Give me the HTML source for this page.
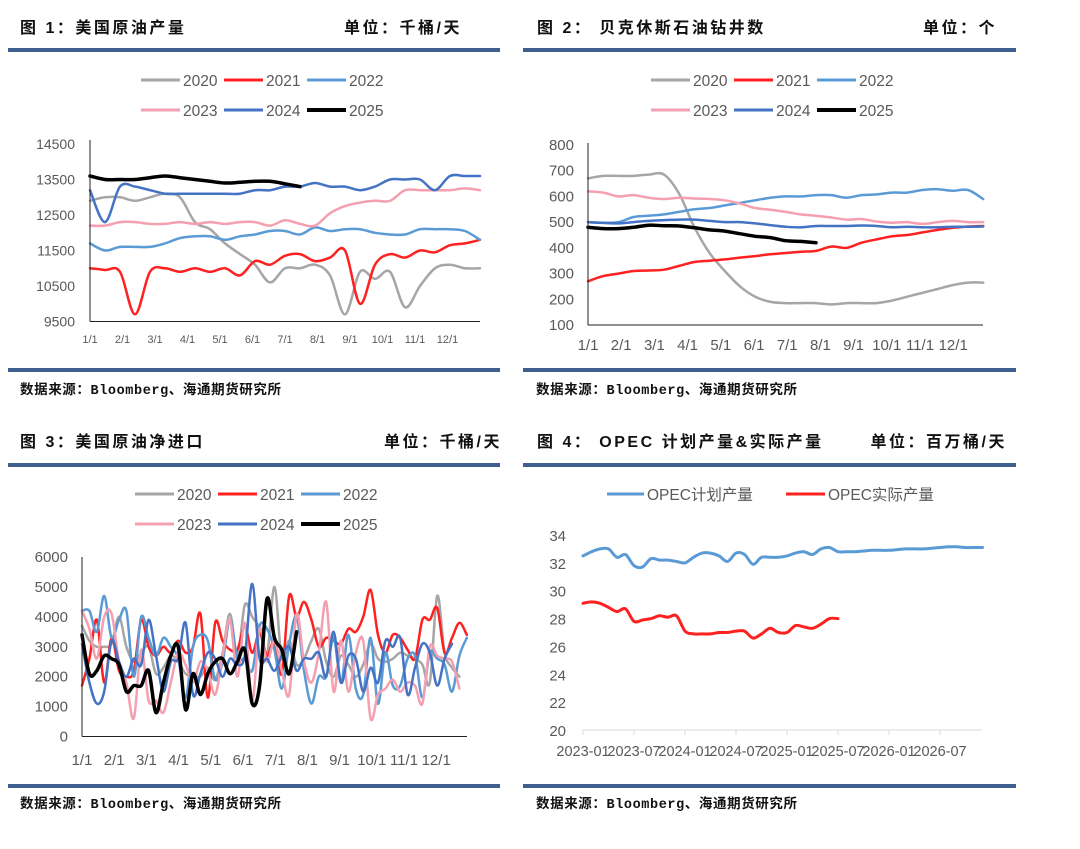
<!DOCTYPE html>
<html><head><meta charset="utf-8"><style>
html,body{margin:0;padding:0;background:#fff;}
svg{display:block;}
.ttl{font-family:"Liberation Sans","Noto Sans CJK SC",sans-serif;font-weight:bold;font-size:16px;fill:#111;letter-spacing:2.5px;}
.src{font-family:"Liberation Mono","Noto Sans CJK SC",monospace;font-weight:bold;font-size:13.5px;fill:#111;letter-spacing:0.6px;}
.ax{font-family:"Liberation Sans","Noto Sans CJK SC",sans-serif;font-size:14px;fill:#595959;}
.lg{font-family:"Liberation Sans","Noto Sans CJK SC",sans-serif;font-size:15.5px;fill:#595959;}
</style></head><body>
<svg id="root" width="1080" height="849" viewBox="0 0 1080 849" xmlns="http://www.w3.org/2000/svg">
<g>
<text class="ttl" x="20" y="33">图 1：美国原油产量</text>
<text class="ttl" x="462" y="33" text-anchor="end">单位：千桶/天</text>
<rect x="8" y="48" width="492" height="4" fill="#3f5f8f"/>
<rect x="8" y="368" width="492" height="4" fill="#3f5f8f"/>
<text class="src" x="20" y="394">数据来源：Bloomberg、海通期货研究所</text>

<text class="ttl" x="537" y="33">图 2：     贝克休斯石油钻井数</text>
<text class="ttl" x="997" y="33" text-anchor="end">单位：个</text>
<rect x="523" y="48" width="493" height="4" fill="#3f5f8f"/>
<rect x="523" y="368" width="493" height="4" fill="#3f5f8f"/>
<text class="src" x="536" y="394">数据来源：Bloomberg、海通期货研究所</text>

<text class="ttl" x="20" y="447">图 3：美国原油净进口</text>
<text class="ttl" x="502" y="447" text-anchor="end">单位：千桶/天</text>
<rect x="8" y="463" width="492" height="4" fill="#3f5f8f"/>
<rect x="8" y="784" width="492" height="4" fill="#3f5f8f"/>
<text class="src" x="20" y="808">数据来源：Bloomberg、海通期货研究所</text>

<text class="ttl" x="537" y="447">图 4：     OPEC 计划产量&amp;实际产量</text>
<text class="ttl" x="1007" y="447" text-anchor="end">单位：百万桶/天</text>
<rect x="523" y="463" width="493" height="4" fill="#3f5f8f"/>
<rect x="523" y="784" width="493" height="4" fill="#3f5f8f"/>
<text class="src" x="536" y="808">数据来源：Bloomberg、海通期货研究所</text>
</g>
<g id="charts"></g>
</svg>
<script>
// ---- Chart 1: US crude production (biweekly) ----
const c1Years = ["2020","2021","2022","2023","2024","2025"];
const c1Ticks = [9500,10500,11500,12500,13500,14500];
const c1Months = ["1/1","2/1","3/1","4/1","5/1","6/1","7/1","8/1","9/1","10/1","11/1","12/1"];
const c1_2020 = [12900,13000,13000,12900,13000,13100,13000,12300,12100,11700,11400,11100,10600,11000,11000,11100,10800,9700,10900,10700,10900,9900,10500,11000,11100,11000,11000];
const c1_2021 = [11000,10950,10900,9700,10900,11000,10900,11000,10900,11000,10800,11200,11100,11350,11400,11200,11300,11500,10000,11100,11400,11300,11500,11450,11650,11700,11800];
const c1_2022 = [11700,11500,11600,11600,11600,11700,11850,11900,11900,11800,11900,11950,12050,12050,11950,12150,12050,12100,12100,12000,11950,11950,12100,12100,12100,12050,11800];
const c1_2023 = [12200,12200,12300,12300,12250,12250,12300,12250,12300,12250,12300,12300,12200,12350,12250,12200,12550,12750,12850,12900,12900,13200,13200,13200,13200,13250,13200];
const c1_2024 = [13200,12300,13300,13300,13200,13100,13100,13100,13100,13100,13100,13200,13200,13300,13300,13400,13300,13300,13200,13300,13500,13500,13500,13200,13600,13600,13600];
const c1_2025 = [13600,13500,13500,13500,13550,13600,13550,13500,13450,13400,13420,13450,13450,13380,13300];

// ---- Chart 2: Baker Hughes oil rigs (biweekly) ----
const c2Ticks = [100,200,300,400,500,600,700,800];
const c2_2020 = [670,680,680,680,685,685,610,480,380,310,250,210,190,185,185,185,180,185,185,185,195,210,225,240,255,265,265];
const c2_2021 = [270,290,300,310,312,315,330,345,350,355,362,368,375,380,385,388,405,400,420,433,445,450,460,470,478,483,485];
const c2_2022 = [500,498,500,520,525,530,540,550,555,565,575,585,595,600,600,605,605,595,605,608,615,615,625,628,622,625,590];
const c2_2023 = [620,615,600,605,595,590,595,592,590,585,572,555,548,540,530,525,518,510,512,502,498,500,493,500,505,500,500];
const c2_2024 = [500,497,495,500,505,508,510,510,505,500,500,495,488,482,480,485,485,485,487,485,480,482,480,480,482,482,483];
const c2_2025 = [480,475,475,480,488,486,485,478,470,465,455,445,440,428,425,420];

// ---- Chart 3: US crude net imports (weekly) ----
const c3Ticks = [0,1000,2000,3000,4000,5000,6000];
const c3_2020 = [3700,3200,3000,3000,3100,4000,3000,2500,2800,3000,2100,2300,2700,2500,2100,2000,2000,2300,1900,2800,4100,2700,4400,4000,3600,2700,5000,2600,3200,2400,2600,3200,3600,2500,2000,2700,2400,2000,2400,3100,2600,2500,2600,2800,2700,2600,2400,1800,4700,2800,2300,2000];
const c3_2021 = [1700,2600,3900,1800,3300,2200,2000,2200,3900,3000,2700,3000,2800,3200,2800,3000,4100,1300,3800,3200,2900,2900,3700,2800,3500,2700,3200,2100,4700,4000,4500,3900,3000,3300,3200,3100,3600,3500,4000,4900,3400,2800,3400,3300,2900,2600,3900,3900,4300,2800,3300,3800,3400];
const c3_2022 = [4200,4200,3500,4700,3300,3900,4200,2000,4000,3300,2700,3300,3000,2600,1300,3000,3400,3200,1900,2500,3900,2600,2600,2200,3700,3600,2900,1600,3100,4000,2200,1100,2000,2000,3300,1800,3400,1600,1400,3300,1100,2800,1700,1700,2600,2700,1300,2800,2600,2400,1500,2700,3300];
const c3_2023 = [4200,3600,2600,4000,4100,2500,1800,600,2900,1200,1200,800,1800,2800,2400,1800,2500,2200,1400,2700,3900,2000,3800,1200,3600,2500,3200,2200,1400,4100,2500,1800,2800,4500,1500,3200,1500,2800,3200,600,1400,1600,1900,1500,1800,1700,1100,3000,2700,2600,2500,1600];
const c3_2024 = [3100,1800,1100,1500,3200,2500,2000,2600,2400,3900,2700,1500,2500,2600,3800,1400,2100,2800,2600,2000,2600,2400,2700,5100,2600,2600,2200,2700,3000,2200,2600,2600,2800,2000,3500,1800,2700,2600,1500,2300,1800,3200,3000,3300,1400,2300,3100,2800,1700,2600,3100];
const c3_2025 = [3400,2100,2200,2700,2600,2400,1500,1700,1700,2200,800,1800,2700,3000,900,2100,1400,2100,2500,2600,2100,2500,2900,1100,1700,4600,3300,2900,2100,3500];

// ---- Chart 4: OPEC planned vs actual (monthly) ----
const c4Ticks = [20,22,24,26,28,30,32,34];
const c4Labels = ["2023-01","2023-07","2024-01","2024-07","2025-01","2025-07","2026-01","2026-07"];
const c4Plan = [32.5,32.8,33.0,33.0,32.4,32.6,31.8,31.7,32.3,32.2,32.2,32.1,32.0,32.4,32.7,32.7,32.5,32.1,32.7,32.6,31.9,32.4,32.4,32.4,32.5,32.7,32.8,32.6,33.0,33.1,32.8,32.8,32.8,32.85,32.9,32.9,32.9,32.95,33.0,33.0,33.0,33.05,33.1,33.15,33.15,33.1,33.1,33.1];
const c4Actual = [29.1,29.2,29.1,28.8,28.5,28.7,27.8,27.9,28.0,28.2,28.1,28.2,27.1,26.9,26.9,26.9,27.0,27.0,27.1,27.1,26.6,26.9,27.3,27.0,27.0,27.5,27.4,27.3,27.6,28.0,28.0];

const NS="http://www.w3.org/2000/svg";
const root=document.getElementById('charts');
const COL={"2020":"#a6a6a6","2021":"#ff2020","2022":"#5b9bd5","2023":"#f4a0b0","2024":"#4472c4","2025":"#000000"};
function mk(tag,attrs,parent){const e=document.createElementNS(NS,tag);for(const k in attrs)e.setAttribute(k,attrs[k]);(parent||root).appendChild(e);return e;}
function txt(s,x,y,cls,anchor,parent){const t=mk('text',{x:x,y:y,class:cls,'text-anchor':anchor||'start'},parent);t.textContent=s;return t;}
function smooth(pts){let d='M'+pts[0][0].toFixed(1)+','+pts[0][1].toFixed(1);for(let i=1;i<pts.length;i++){const p0=pts[i-2]||pts[i-1],p1=pts[i-1],p2=pts[i],p3=pts[i+1]||p2;const c1x=p1[0]+(p2[0]-p0[0])/6,c1y=p1[1]+(p2[1]-p0[1])/6,c2x=p2[0]-(p3[0]-p1[0])/6,c2y=p2[1]-(p3[1]-p1[1])/6;d+='C'+c1x.toFixed(1)+','+c1y.toFixed(1)+' '+c2x.toFixed(1)+','+c2y.toFixed(1)+' '+p2[0].toFixed(1)+','+p2[1].toFixed(1);}return d;}
function series(vals,xf,yf,color,w,g,name){const pts=vals.map((v,i)=>[xf(i),yf(v)]);const p=mk('path',{d:smooth(pts),fill:'none',stroke:color,'stroke-width':w,'stroke-linejoin':'round','stroke-linecap':'round'},g);


return p;}
function legend(g,x0,y0,prefix){const rows=[["2020","2021","2022"],["2023","2024","2025"]];rows.forEach((r,ri)=>r.forEach((yr,ci)=>{const x=x0+ci*83,y=y0+ri*30;const item=mk('g',{},g);


mk('line',{x1:x,y1:y,x2:x+39,y2:y,stroke:COL[yr],'stroke-width':yr==="2025"?4:3},item);txt(yr,x+42,y+6,'lg','start',item);}));}

// Chart 1
(function(){const g=mk('g',{});


const X0=90,X1=480,Y0=321.5,Y1=144;const yf=v=>Y0-(v-9500)/5000*(Y0-Y1);const xf=i=>X0+i*15;
legend(g,141,80,'chart1');
c1Ticks.forEach(t=>{const e=txt(String(t),75,yf(t)+5,'ax','end',g);

});
c1Months.forEach((m,i)=>{const e=txt(m,X0+i*32.5,343,'ax','middle',g);e.setAttribute('style','font-size:11px');

});
const data={"2020":c1_2020,"2021":c1_2021,"2022":c1_2022,"2023":c1_2023,"2024":c1_2024,"2025":c1_2025};
c1Years.forEach(y=>series(data[y],xf,yf,COL[y],y==="2025"?3.5:2.5,g,'chart1-line-'+y));
mk('line',{x1:X0,y1:Y1-4,x2:X0,y2:Y0,stroke:'#222','stroke-width':1},g);
mk('line',{x1:X0,y1:Y0,x2:X1,y2:Y0,stroke:'#222','stroke-width':1},g);})();

// Chart 2
(function(){const g=mk('g',{});


const X0=588,X1=983,Y0=325,Y1=145;const yf=v=>Y0-(v-100)/700*(Y0-Y1);const xf=i=>X0+i*15.2;
legend(g,651,80,'chart2');
c2Ticks.forEach(t=>{const e=txt(String(t),574,yf(t)+5,'ax','end',g);e.setAttribute('style','font-size:15px');

});
c1Months.forEach((m,i)=>{const e=txt(m,X0+i*33.2,350,'ax','middle',g);e.setAttribute('style','font-size:15px');

});
const data={"2020":c2_2020,"2021":c2_2021,"2022":c2_2022,"2023":c2_2023,"2024":c2_2024,"2025":c2_2025};
c1Years.forEach(y=>series(data[y],xf,yf,COL[y],y==="2025"?3.5:2.5,g,'chart2-line-'+y));
mk('line',{x1:X0,y1:Y1-2,x2:X0,y2:Y0,stroke:'#222','stroke-width':1},g);
mk('line',{x1:X0,y1:Y0,x2:X1,y2:Y0,stroke:'#222','stroke-width':1},g);})();

// Chart 3
(function(){const g=mk('g',{});


const X0=82,X1=467,Y0=736.5,Y1=557;const yf=v=>Y0-v/6000*(Y0-Y1);const xf=i=>X0+i*7.4;
legend(g,135,494,'chart3');
c3Ticks.forEach(t=>{const e=txt(String(t),68,yf(t)+5,'ax','end',g);e.setAttribute('style','font-size:15px');

});
c1Months.forEach((m,i)=>{const e=txt(m,X0+i*32.2,765,'ax','middle',g);e.setAttribute('style','font-size:15px');

});
const data={"2020":c3_2020,"2021":c3_2021,"2022":c3_2022,"2023":c3_2023,"2024":c3_2024,"2025":c3_2025};
c1Years.forEach(y=>series(data[y],xf,yf,COL[y],y==="2025"?3.5:2.5,g,'chart3-line-'+y));
mk('line',{x1:X0,y1:Y1,x2:X0,y2:Y0,stroke:'#222','stroke-width':1},g);
mk('line',{x1:X0,y1:Y0,x2:X1,y2:Y0,stroke:'#222','stroke-width':1},g);})();

// Chart 4
(function(){const g=mk('g',{});


const X0=583,X1=982,Y0=730,Y1=535;const yf=v=>Y0-(v-20)/14*(Y0-Y1);const xf=i=>X0+i*8.5;
const l1=mk('g',{},g);


mk('line',{x1:607,y1:494,x2:644,y2:494,stroke:'#5b9bd5','stroke-width':3},l1);txt('OPEC计划产量',647,500,'lg','start',l1);
const l2=mk('g',{},g);


mk('line',{x1:786,y1:494,x2:825,y2:494,stroke:'#ff2020','stroke-width':3},l2);txt('OPEC实际产量',828,500,'lg','start',l2);
c4Ticks.forEach(t=>{const e=txt(String(t),566,yf(t)+6,'ax','end',g);e.setAttribute('style','font-size:15px');

});
mk('line',{x1:X0,y1:Y0,x2:X1,y2:Y0,stroke:'#d9d9d9','stroke-width':1},g);
c4Labels.forEach((m,i)=>{const x=X0+i*51;mk('line',{x1:x,y1:Y0,x2:x,y2:Y0+5,stroke:'#d9d9d9','stroke-width':1},g);const e=txt(m,x,756,'ax','middle',g);e.setAttribute('style','font-size:14.5px');

});
series(c4Plan,xf,yf,'#5b9bd5',3,g,'chart4-line-plan');
series(c4Actual,xf,yf,'#ff2020',3,g,'chart4-line-actual');})();
</script>
</body></html>
